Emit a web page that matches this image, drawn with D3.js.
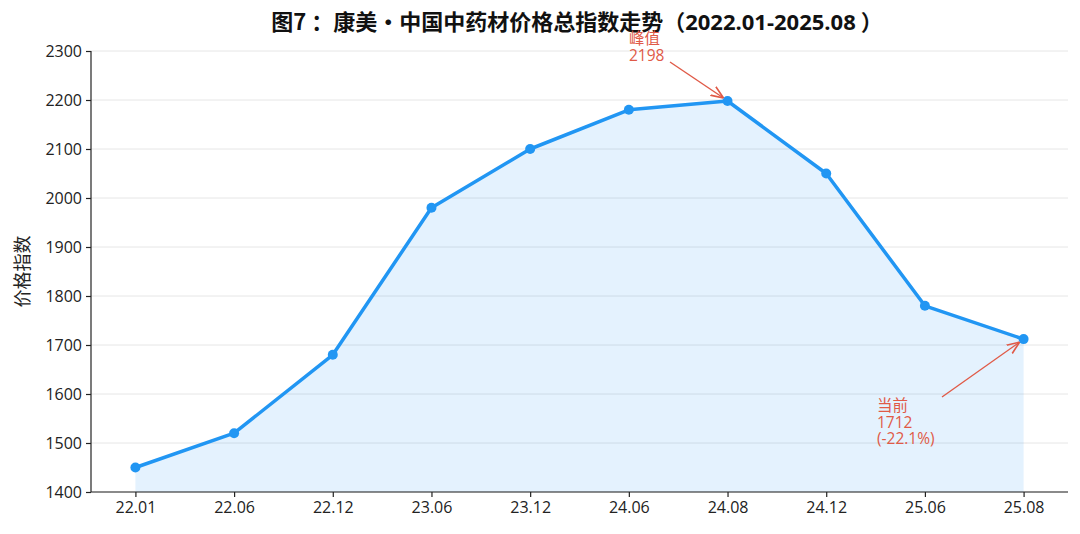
<!DOCTYPE html>
<html lang="zh">
<head>
<meta charset="UTF-8">
<title>康美中药材价格总指数走势</title>
<script src="https://cdnjs.cloudflare.com/ajax/libs/d3/7.8.5/d3.min.js"></script>
<style>
  body { margin: 0; background: #fff; font-family: "Open Sans", "Noto Sans CJK SC", sans-serif; }
  .grid line { stroke: #e6e6e6; stroke-width: 1; }
  .axis text { font-size: 16px; fill: #222; font-family: "Open Sans", "Noto Sans CJK SC", sans-serif; }
  .axis path, .axis line { stroke: #222; stroke-width: 1.2; }
  .note { fill: #e05a47; font-size: 15.5px; font-family: "Open Sans", "Noto Sans CJK SC", sans-serif; }
</style>
</head>
<body>
<div id="chart"></div>
<script>
// data
const periods = ["22.01", "22.06", "22.12", "23.06", "23.12", "24.06", "24.08", "24.12", "25.06", "25.08"];
const indexValues = [1450, 1520, 1680, 1980, 2100, 2180, 2198, 2050, 1780, 1712];
const yTicks = [1400, 1500, 1600, 1700, 1800, 1900, 2000, 2100, 2200, 2300];
const peakNote = ["峰值", "2198"];
const currentNote = ["当前", "1712", "(-22.1%)"];

const W = 1080, H = 534;
const margin = { top: 51, right: 12, bottom: 42, left: 91 };

const svg = d3.select("#chart").append("svg")
    .attr("width", W)
    .attr("height", H);

const x = d3.scalePoint()
    .domain(periods)
    .range([margin.left, W - margin.right])
    .padding(0.45);

const y = d3.scaleLinear()
    .domain([1400, 2300])
    .range([H - margin.bottom, margin.top]);

// grid
svg.append("g")
    .attr("class", "grid")
    .selectAll("line")
    .data(yTicks)
    .join("line")
    .attr("x1", margin.left)
    .attr("x2", W - margin.right)
    .attr("y1", d => y(d))
    .attr("y2", d => y(d));

// area under line
const area = d3.area()
    .x((d, i) => x(periods[i]))
    .y0(y(1400))
    .y1(d => y(d));

svg.append("path")
    .datum(indexValues)
    .attr("d", area)
    .attr("fill", "#2196f3")
    .attr("fill-opacity", 0.12);

// line
const line = d3.line()
    .x((d, i) => x(periods[i]))
    .y(d => y(d));

svg.append("path")
    .datum(indexValues)
    .attr("d", line)
    .attr("fill", "none")
    .attr("stroke", "#2196f3")
    .attr("stroke-width", 3.5)
    .attr("stroke-linejoin", "round");

svg.append("g")
    .selectAll("circle")
    .data(indexValues)
    .join("circle")
    .attr("cx", (d, i) => x(periods[i]))
    .attr("cy", d => y(d))
    .attr("r", 5)
    .attr("fill", "#2196f3");

// axes
svg.append("g")
    .attr("class", "axis")
    .attr("transform", `translate(0,${H - margin.bottom})`)
    .call(d3.axisBottom(x).tickSize(5).tickPadding(5))
    .call(g => g.select(".domain").attr("d", `M${margin.left},0H${W - margin.right}`));

svg.append("g")
    .attr("class", "axis")
    .attr("transform", `translate(${margin.left},0)`)
    .call(d3.axisLeft(y).tickValues(yTicks).tickFormat(d3.format("d")).tickSize(5).tickPadding(4))
    .call(g => g.select(".domain").attr("d", `M0,${margin.top}V${H - margin.bottom}`));

// y label
svg.append("text")
    .attr("transform", `translate(29,${(margin.top + H - margin.bottom) / 2}) rotate(-90)`)
    .attr("text-anchor", "middle")
    .attr("font-size", 18)
    .attr("fill", "#222")
    .attr("font-family", "Noto Sans CJK SC, sans-serif")
    .text("价格指数");

// title
const title = svg.append("text")
    .attr("x", 577)
    .attr("y", 30)
    .attr("text-anchor", "middle")
    .attr("font-size", 22)
    .attr("font-weight", "bold")
    .attr("fill", "#111")
    .attr("font-family", "Noto Sans CJK SC, sans-serif");
title.append("tspan").text("图7 ：康美·中国中药材价格总指数走势（");
title.append("tspan").attr("font-family", "Open Sans, sans-serif").text("2022.01-2025.08");
title.append("tspan").text(" ）");

// annotations
svg.append("defs").append("marker")
    .attr("id", "arrow")
    .attr("viewBox", "0 0 10 10")
    .attr("refX", 10).attr("refY", 5)
    .attr("markerWidth", 9).attr("markerHeight", 9)
    .attr("orient", "auto")
    .append("path")
    .attr("d", "M0,1 L10,5 L0,9")
    .attr("fill", "none")
    .attr("stroke", "#e05a47")
    .attr("stroke-width", 1.3);

function note(lines, tx, ty, ax, ay, px, py) {
    lines.forEach((s, i) => {
        svg.append("text")
            .attr("class", "note")
            .attr("x", tx)
            .attr("y", ty + i * 16.5)
            .text(s);
    });
    svg.append("line")
        .attr("x1", ax).attr("y1", ay)
        .attr("x2", px).attr("y2", py)
        .attr("stroke", "#e05a47")
        .attr("stroke-width", 1.4)
        .attr("marker-end", "url(#arrow)");
}

const iPeak = periods.indexOf("24.08");
const iNow = periods.length - 1;
note(peakNote, 629, 44, 670, 62, x(periods[iPeak]) - 4, y(indexValues[iPeak]) - 3);
note(currentNote, 877, 411, 942, 397, x(periods[iNow]) - 4, y(indexValues[iNow]) + 3);
</script>
</body>
</html>
